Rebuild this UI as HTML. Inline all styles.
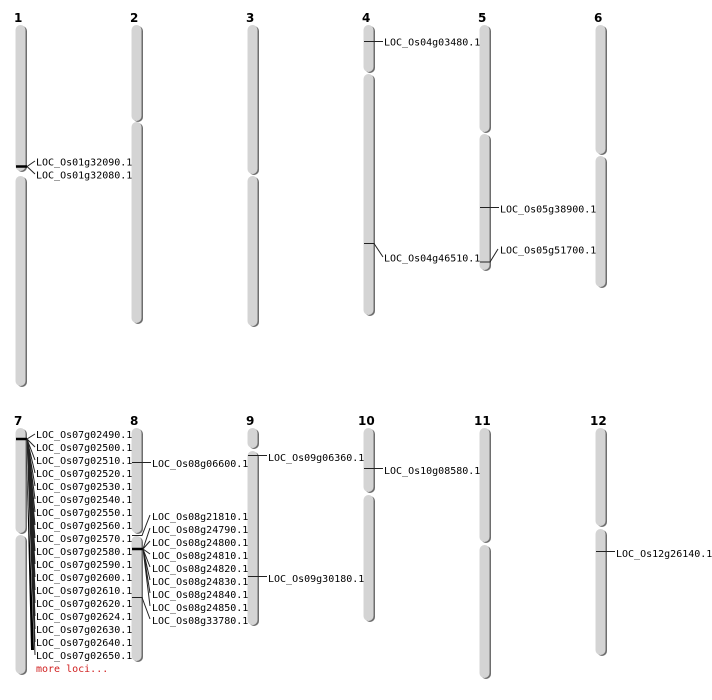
<!DOCTYPE html>
<html><head><meta charset="utf-8"><style>
html,body{margin:0;padding:0;background:#fff;}
svg{display:block;}
text{font-family:"DejaVu Sans Mono","Liberation Mono",monospace;font-size:10px;fill:#000;}
.n{font-family:"DejaVu Sans","Liberation Sans",sans-serif;font-weight:bold;font-size:12px;}
.sh{fill:#6e6e6e;}
.ch{fill:#d4d4d4;}
.l{stroke:#222;stroke-width:1;fill:none;}
.b{stroke:#000;stroke-width:2.5;}
</style></head><body>
<svg width="712" height="700" viewBox="0 0 712 700">
<g id="chroms">
<!-- row 1 -->
<rect class="sh" x="17" y="26" width="10" height="146" rx="5"/><rect class="ch" x="15.5" y="25" width="10" height="146" rx="5"/>
<rect class="sh" x="17" y="177" width="10" height="210" rx="5"/><rect class="ch" x="15.5" y="176" width="10" height="210" rx="5"/>
<rect class="sh" x="133" y="26" width="10" height="96" rx="5"/><rect class="ch" x="131.5" y="25" width="10" height="96" rx="5"/>
<rect class="sh" x="133" y="123" width="10" height="201" rx="5"/><rect class="ch" x="131.5" y="122" width="10" height="201" rx="5"/>
<rect class="sh" x="249" y="26" width="10" height="149" rx="5"/><rect class="ch" x="247.5" y="25" width="10" height="149" rx="5"/>
<rect class="sh" x="249" y="177" width="10" height="150" rx="5"/><rect class="ch" x="247.5" y="176" width="10" height="150" rx="5"/>
<rect class="sh" x="365" y="26" width="10" height="47" rx="5"/><rect class="ch" x="363.5" y="25" width="10" height="47" rx="5"/>
<rect class="sh" x="365" y="75" width="10" height="241" rx="5"/><rect class="ch" x="363.5" y="74" width="10" height="241" rx="5"/>
<rect class="sh" x="481" y="26" width="10" height="107" rx="5"/><rect class="ch" x="479.5" y="25" width="10" height="107" rx="5"/>
<rect class="sh" x="481" y="135" width="10" height="136" rx="5"/><rect class="ch" x="479.5" y="134" width="10" height="136" rx="5"/>
<rect class="sh" x="597" y="26" width="10" height="129" rx="5"/><rect class="ch" x="595.5" y="25" width="10" height="129" rx="5"/>
<rect class="sh" x="597" y="157" width="10" height="131" rx="5"/><rect class="ch" x="595.5" y="156" width="10" height="131" rx="5"/>
<!-- row 2 -->
<rect class="sh" x="17" y="429" width="10" height="105" rx="5"/><rect class="ch" x="15.5" y="428" width="10" height="105" rx="5"/>
<rect class="sh" x="17" y="536" width="10" height="139" rx="5"/><rect class="ch" x="15.5" y="535" width="10" height="139" rx="5"/>
<rect class="sh" x="133" y="429" width="10" height="105" rx="5"/><rect class="ch" x="131.5" y="428" width="10" height="105" rx="5"/>
<rect class="sh" x="133" y="537" width="10" height="125" rx="5"/><rect class="ch" x="131.5" y="536" width="10" height="125" rx="5"/>
<rect class="sh" x="249" y="429" width="10" height="20" rx="5"/><rect class="ch" x="247.5" y="428" width="10" height="20" rx="5"/>
<rect class="sh" x="249" y="452" width="10" height="174" rx="5"/><rect class="ch" x="247.5" y="451" width="10" height="174" rx="5"/>
<rect class="sh" x="365" y="429" width="10" height="64" rx="5"/><rect class="ch" x="363.5" y="428" width="10" height="64" rx="5"/>
<rect class="sh" x="365" y="496" width="10" height="126" rx="5"/><rect class="ch" x="363.5" y="495" width="10" height="126" rx="5"/>
<rect class="sh" x="481" y="429" width="10" height="114" rx="5"/><rect class="ch" x="479.5" y="428" width="10" height="114" rx="5"/>
<rect class="sh" x="481" y="546" width="10" height="133" rx="5"/><rect class="ch" x="479.5" y="545" width="10" height="133" rx="5"/>
<rect class="sh" x="597" y="429" width="10" height="98" rx="5"/><rect class="ch" x="595.5" y="428" width="10" height="98" rx="5"/>
<rect class="sh" x="597" y="530" width="10" height="126" rx="5"/><rect class="ch" x="595.5" y="529" width="10" height="126" rx="5"/>
</g>
<g>
<text class="n" x="14" y="22">1</text><text class="n" x="130" y="22">2</text><text class="n" x="246" y="22">3</text>
<text class="n" x="362" y="22">4</text><text class="n" x="478" y="22">5</text><text class="n" x="594" y="22">6</text>
<text class="n" x="14" y="425">7</text><text class="n" x="130" y="425">8</text><text class="n" x="246" y="425">9</text>
<text class="n" x="358" y="425">10</text><text class="n" x="474" y="425">11</text><text class="n" x="590" y="425">12</text>
</g>
<!-- chr1 -->
<line class="b" x1="16" y1="166.5" x2="27" y2="166.5"/>
<path class="l" d="M27 166.5 L35 161 M27 166.5 L35 174"/>
<text x="36" y="165.5">LOC_Os01g32090.1</text><text x="36" y="178.5">LOC_Os01g32080.1</text>
<!-- chr4 -->
<path class="l" d="M364 41.5 H383"/><text x="384" y="45.5">LOC_Os04g03480.1</text>
<path class="l" d="M364 243.5 H374 L383 257"/><text x="384" y="261.5">LOC_Os04g46510.1</text>
<!-- chr5 -->
<path class="l" d="M480 207.5 H499"/><text x="500" y="212.5">LOC_Os05g38900.1</text>
<path class="l" d="M480 262 H490 L498 249"/><text x="500" y="253.5">LOC_Os05g51700.1</text>
<!-- chr7 -->
<line class="b" x1="16" y1="439" x2="27" y2="439"/>
<path class="l" d="M27 439 L35 434 M27 439 L35 447 M27 439 L35 460 M27 439 L35 473 M27 439 L35 486 M27 439 L35 499 M27 439 L35 512 M27 439 L35 525 M27 439 L35 538 M27 439 L35 551 M27 439 L35 564 M27 439 L35 577 M27 439 L35 590 M27 439 L35 603 M27 439 L35 616 M27 439 L35 629 M27 439 L35 642 M27 439 L35 655"/>
<path d="M26 440 L34 650 L31 650 Z" fill="#000"/>
<text x="36" y="438">LOC_Os07g02490.1</text>
<text x="36" y="451">LOC_Os07g02500.1</text>
<text x="36" y="464">LOC_Os07g02510.1</text>
<text x="36" y="477">LOC_Os07g02520.1</text>
<text x="36" y="490">LOC_Os07g02530.1</text>
<text x="36" y="503">LOC_Os07g02540.1</text>
<text x="36" y="516">LOC_Os07g02550.1</text>
<text x="36" y="529">LOC_Os07g02560.1</text>
<text x="36" y="542">LOC_Os07g02570.1</text>
<text x="36" y="555">LOC_Os07g02580.1</text>
<text x="36" y="568">LOC_Os07g02590.1</text>
<text x="36" y="581">LOC_Os07g02600.1</text>
<text x="36" y="594">LOC_Os07g02610.1</text>
<text x="36" y="607">LOC_Os07g02620.1</text>
<text x="36" y="620">LOC_Os07g02624.1</text>
<text x="36" y="633">LOC_Os07g02630.1</text>
<text x="36" y="646">LOC_Os07g02640.1</text>
<text x="36" y="659">LOC_Os07g02650.1</text>
<text x="36" y="672" style="fill:#d02020">more loci...</text>
<!-- chr8 -->
<path class="l" d="M132 462.5 H151"/><text x="152" y="467">LOC_Os08g06600.1</text>
<path class="l" d="M132 535.5 H142 L150 515"/>
<line class="b" x1="132" y1="549" x2="143" y2="549"/>
<path class="l" d="M143 549 L150 528 M143 549 L150 541 M143 549 L150 554 M143 549 L150 567 M143 549 L150 580 M143 549 L150 593 M143 549 L150 606"/>
<path class="l" d="M132 597.5 H142 L150 619"/>
<text x="152" y="520">LOC_Os08g21810.1</text>
<text x="152" y="533">LOC_Os08g24790.1</text>
<text x="152" y="546">LOC_Os08g24800.1</text>
<text x="152" y="559">LOC_Os08g24810.1</text>
<text x="152" y="572">LOC_Os08g24820.1</text>
<text x="152" y="585">LOC_Os08g24830.1</text>
<text x="152" y="598">LOC_Os08g24840.1</text>
<text x="152" y="611">LOC_Os08g24850.1</text>
<text x="152" y="624">LOC_Os08g33780.1</text>
<!-- chr9 -->
<path class="l" d="M248 455.5 H267"/><text x="268" y="461">LOC_Os09g06360.1</text>
<path class="l" d="M248 576.5 H267"/><text x="268" y="582">LOC_Os09g30180.1</text>
<!-- chr10 -->
<path class="l" d="M364 468.5 H383"/><text x="384" y="474">LOC_Os10g08580.1</text>
<!-- chr12 -->
<path class="l" d="M596 551.5 H615"/><text x="616" y="557">LOC_Os12g26140.1</text>
</svg>
</body></html>
